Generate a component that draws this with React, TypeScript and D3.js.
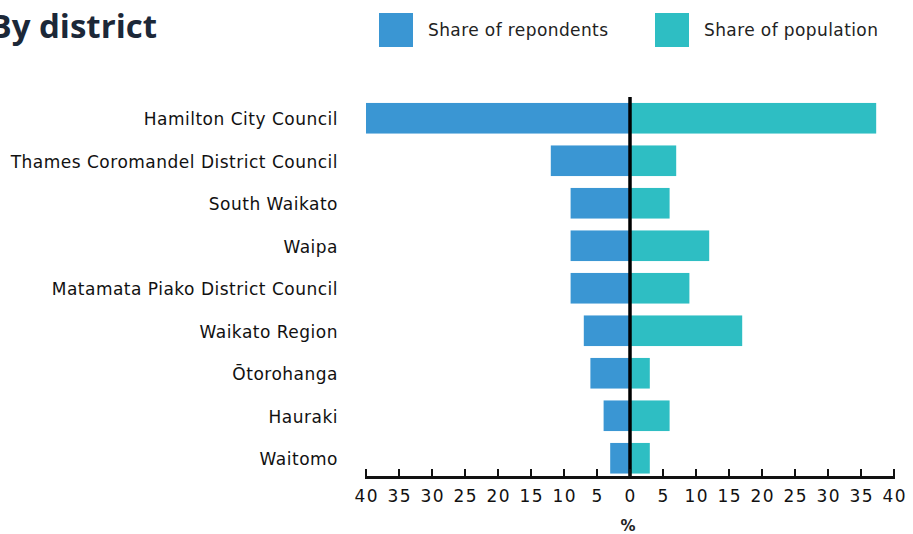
import React from "react";
import * as d3 from "d3";

const categories = [
  "Hamilton City Council",
  "Thames Coromandel District Council",
  "South Waikato",
  "Waipa",
  "Matamata Piako District Council",
  "Waikato Region",
  "Ōtorohanga",
  "Hauraki",
  "Waitomo",
];
const respondents = [40, 12, 9, 9, 9, 7, 6, 4, 3];
const population = [37.3, 7, 6, 12, 9, 17, 3, 6, 3];
const tickValues = [-40, -35, -30, -25, -20, -15, -10, -5, 0, 5, 10, 15, 20, 25, 30, 35, 40];
const seriesNames = ["Share of repondents", "Share of population"];
const colors = ["#3a96d3", "#2ebec3"];

const W = 913;
const H = 534;
const FONT = "'DejaVu Sans', sans-serif";

export default function App() {
  const x = d3.scaleLinear().domain([-40, 40]).range([366, 894]);
  const y = d3
    .scaleBand<string>()
    .domain(categories)
    .range([97, 479.5])
    .paddingInner(0.28)
    .paddingOuter(0.14);
  const axisY = 477.5;

  return (
    <svg
      width={W}
      height={H}
      style={{ position: "absolute", left: 0, top: 0, background: "#fff" }}
      fontFamily={FONT}
    >
      <text
        x={157}
        y={38}
        textAnchor="end"
        fontSize={33}
        fontWeight={700}
        fill="#1c2838"
        fontFamily="'Open Sans', sans-serif"
      >
        By district
      </text>
      {seriesNames.map((s, i) => {
        const lx = i === 0 ? 379 : 655;
        return (
          <g key={s}>
            <rect x={lx} y={13} width={34} height={34} fill={colors[i]} />
            <text
              x={lx + 49}
              y={31}
              dominantBaseline="middle"
              fontSize={17}
              letterSpacing={0.4}
              fill="#222"
            >
              {s}
            </text>
          </g>
        );
      })}
      {categories.map((c, i) => (
        <g key={c}>
          <rect
            x={x(-respondents[i])}
            y={y(c)!}
            width={x(0) - x(-respondents[i])}
            height={y.bandwidth()}
            fill={colors[0]}
          />
          <rect
            x={x(0)}
            y={y(c)!}
            width={x(population[i]) - x(0)}
            height={y.bandwidth()}
            fill={colors[1]}
          />
          <text
            x={338}
            y={y(c)! + y.bandwidth() / 2 + 2}
            textAnchor="end"
            dominantBaseline="middle"
            fontSize={17}
            letterSpacing={0.5}
            fill="#111"
          >
            {c}
          </text>
        </g>
      ))}
      <line x1={x(0)} x2={x(0)} y1={97} y2={axisY} stroke="#000" strokeWidth={3.5} />
      <line x1={x(-40) - 1} x2={x(40) + 1} y1={axisY} y2={axisY} stroke="#111" strokeWidth={3} />
      {tickValues.map((t) => (
        <g key={t}>
          <line x1={x(t)} x2={x(t)} y1={469} y2={axisY} stroke="#111" strokeWidth={2} />
          <text
            x={x(t) + 0.7}
            y={497}
            textAnchor="middle"
            dominantBaseline="middle"
            fontSize={17}
            letterSpacing={1.4}
            fill="#111"
          >
            {Math.abs(t)}
          </text>
        </g>
      ))}
      <text x={x(0) - 2} y={526} textAnchor="middle" dominantBaseline="middle" fontSize={15} fontWeight={700} fill="#222">
        %
      </text>
    </svg>
  );
}
